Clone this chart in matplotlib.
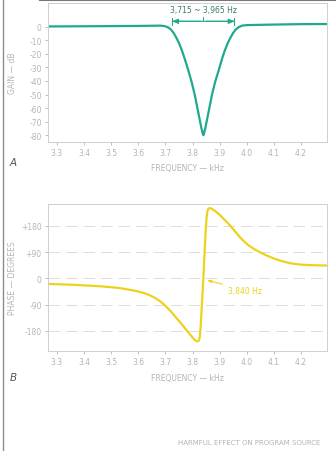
import matplotlib
matplotlib.use("Agg")
import matplotlib.pyplot as plt
from matplotlib.lines import Line2D

# ---- data -------------------------------------------------------------
freq_ticks = [3.3, 3.4, 3.5, 3.6, 3.7, 3.8, 3.9, 4.0, 4.1, 4.2]
gain_ticks = [0, -10, -20, -30, -40, -50, -60, -70, -80]
phase_ticks = [180, 90, 0, -90, -180]
phase_tick_labels = ["+180", "+90", "0", "-90", "-180"]

# notch filter gain (kHz, dB)
gain_freq = [3.267, 3.45, 3.60, 3.680, 3.697, 3.710, 3.720, 3.730, 3.740,
             3.750, 3.760, 3.771, 3.785, 3.797, 3.808, 3.818, 3.826, 3.833,
             3.838, 3.840, 3.842, 3.847, 3.854, 3.862, 3.872, 3.883, 3.896,
             3.909, 3.920, 3.930, 3.940, 3.950, 3.960, 3.970, 3.983, 4.000,
             4.10, 4.20, 4.296]
gain_db = [0.2, 0.4, 0.6, 0.8, 0.5, -0.5, -2.0, -4.5, -8.0,
           -12.0, -17.0, -23.5, -32.5, -41.0, -50.0, -60.0, -68.0, -75.0,
           -79.0, -80.0, -79.0, -75.0, -68.0, -60.0, -50.0, -41.0, -32.5,
           -23.5, -17.0, -12.0, -8.0, -4.5, -2.0, -0.3, 0.8, 1.2,
           1.6, 1.9, 2.0]

# phase response (kHz, degrees)
phase_freq = [3.267, 3.36, 3.46, 3.53, 3.58, 3.60, 3.62, 3.64, 3.66, 3.68,
              3.70, 3.72, 3.74, 3.76, 3.78, 3.795, 3.806, 3.814, 3.820,
              3.824, 3.827, 3.830, 3.834, 3.840, 3.845, 3.849, 3.852, 3.855,
              3.859, 3.864, 3.870, 3.882, 3.90, 3.919, 3.94, 3.956, 3.975,
              3.993, 4.01, 4.03, 4.05, 4.07, 4.10, 4.13, 4.16, 4.20, 4.245,
              4.296]
phase_deg = [-19, -22, -27, -33, -41, -45, -50, -57, -66, -78,
             -94, -113, -135, -157, -180, -197, -209, -215, -216,
             -212, -200, -165, -100, 0, 100, 170, 210, 230,
             239, 241, 239, 232, 218, 200, 180, 162, 141,
             124, 111, 99, 89, 80, 68, 59, 52, 47, 45,
             44]

band_lo, band_hi = 3.715, 3.965
center_freq = 3.840

# ---- styling ----------------------------------------------------------
teal = "#1fa98e"
yellow = "#ecd21c"
faint = "#b4b4b4"
frame = "#cfcfcf"
FS = 5.5

plt.rcParams["font.family"] = ["DejaVu Sans"]

fig = plt.figure(figsize=(3.36, 4.52), dpi=100)
fig.patch.set_facecolor("white")

W, H = 336.0, 452.0
def rect(x0, y0, x1, y1):
    return [x0 / W, 1 - y1 / H, (x1 - x0) / W, (y1 - y0) / H]

ax1 = fig.add_axes(rect(48, 4, 327, 143))
ax2 = fig.add_axes(rect(48, 205, 327, 352))

xlim = (3.267, 4.296)

def style(ax):
    ax.set_xlim(*xlim)
    for s in ax.spines.values():
        s.set_color(frame)
        s.set_linewidth(0.7)
    ax.set_xticks(freq_ticks)
    ax.set_xticklabels([f"{t:.1f}" for t in freq_ticks])
    ax.tick_params(colors=faint, labelcolor=faint, labelsize=FS,
                   length=2.5, width=0.6, pad=2)

# ---- gain panel -------------------------------------------------------
style(ax1)
ax1.set_ylim(-85, 17.5)
ax1.set_yticks(gain_ticks)
ax1.set_yticklabels([str(t) for t in gain_ticks])
ax1.plot(gain_freq, gain_db, color=teal, lw=1.6,
         solid_capstyle="round", solid_joinstyle="round")
ax1.set_ylabel("GAIN — dB", color=faint, fontsize=FS)
ax1.yaxis.set_label_coords(-0.112, 0.5)
ax1.set_xlabel("FREQUENCY — kHz", color=faint, fontsize=FS, labelpad=4)

# bandwidth marker
y_arr = 4.0
ax1.annotate("", xy=(band_lo, y_arr), xytext=(band_hi, y_arr),
             arrowprops=dict(arrowstyle="|-|,widthA=0.25,widthB=0.25",
                             color=teal, lw=0.8))
ax1.annotate("", xy=(band_lo, y_arr), xytext=(center_freq, y_arr),
             arrowprops=dict(arrowstyle="-|>,head_length=0.35,head_width=0.15",
                             color=teal, lw=0.8))
ax1.annotate("", xy=(band_hi, y_arr), xytext=(center_freq, y_arr),
             arrowprops=dict(arrowstyle="-|>,head_length=0.35,head_width=0.15",
                             color=teal, lw=0.8))
ax1.plot([center_freq, center_freq], [y_arr, y_arr + 3.5], color=teal, lw=0.7)
ax1.text(center_freq, 12.5, "3,715 ~ 3,965 Hz", ha="center", va="center",
         fontsize=5.5, color="#3f7a6e")

# ---- phase panel ------------------------------------------------------
style(ax2)
ax2.set_ylim(-249, 255)
ax2.set_yticks(phase_ticks)
ax2.set_yticklabels(phase_tick_labels)
for t in phase_ticks + [255]:
    ax2.axhline(t, color="#dcdcdc", lw=0.7, ls=(0, (12, 6)), zorder=0)
ax2.plot(phase_freq, phase_deg, color=yellow, lw=1.6,
         solid_capstyle="round", solid_joinstyle="round")
ax2.set_ylabel("PHASE — DEGREES", color=faint, fontsize=FS)
ax2.yaxis.set_label_coords(-0.112, 0.5)
ax2.set_xlabel("FREQUENCY — kHz", color=faint, fontsize=FS, labelpad=5)
ax2.annotate("3,840 Hz", xy=(center_freq + 0.004, -4), xytext=(3.93, -40),
             color=yellow, fontsize=5.5, va="center",
             arrowprops=dict(arrowstyle="-|>,head_length=0.4,head_width=0.15",
                             color=yellow, lw=0.8))

# ---- figure-level text and border -------------------------------------
fig.text(10 / W, 1 - 163 / H, "A", fontsize=7.5, style="italic",
         color="#555555", va="center", ha="left")
fig.text(10 / W, 1 - 378 / H, "B", fontsize=7.5, style="italic",
         color="#555555", va="center", ha="left")
fig.text(320 / W, 1 - 443 / H, "HARMFUL EFFECT ON PROGRAM SOURCE",
         fontsize=5.0, color=faint, ha="right", va="center")

fig.add_artist(Line2D([2.5 / W, 2.5 / W], [0, 1], color="#8c8c8c", lw=1.0))
fig.add_artist(Line2D([40 / W, 1], [1 - 1 / H, 1 - 1 / H], color="#777777", lw=1.5))

fig.savefig("out.png", dpi=100, facecolor="white")
